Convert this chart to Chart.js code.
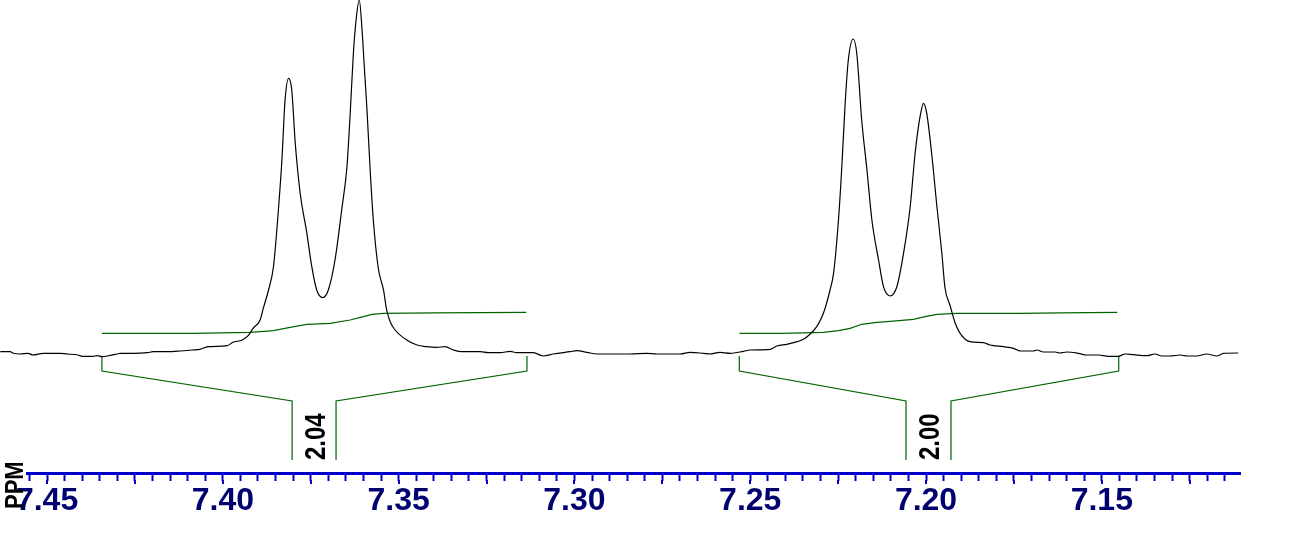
<!DOCTYPE html>
<html>
<head>
<meta charset="utf-8">
<script src="https://cdn.jsdelivr.net/npm/chart.js@4.4.1/dist/chart.umd.min.js"></script>
<style>
    html, body { margin: 0; padding: 0; background: #fff; }
    #spec { display: block; }
</style>
</head>
<body>
<canvas id="spec" width="1292" height="534"></canvas>
<script>
// spectrum: chemical shift (ppm) / intensity
var shiftPpm = [
    7.4633, 7.4605, 7.4596, 7.4577, 7.4554, 7.4540, 7.4511, 7.4463, 7.4443, 7.4412,
    7.4400, 7.4369, 7.4358, 7.4343, 7.4329, 7.4301, 7.4292, 7.4255, 7.4215, 7.4198,
    7.4158, 7.4121, 7.4087, 7.4065, 7.4042, 7.3988, 7.3971, 7.3945, 7.3928, 7.3914,
    7.3894, 7.3885, 7.3870, 7.3856, 7.3842, 7.3832, 7.3823, 7.3813, 7.3804, 7.3794,
    7.3780, 7.3761, 7.3747, 7.3733, 7.3716, 7.3700, 7.3681, 7.3662, 7.3647, 7.3638,
    7.3629, 7.3621, 7.3612, 7.3604, 7.3598, 7.3590, 7.3581, 7.3572, 7.3558, 7.3543,
    7.3534, 7.3524, 7.3510, 7.3477, 7.3448, 7.3420, 7.3391, 7.3368, 7.3344, 7.3320,
    7.3268, 7.3245, 7.3211, 7.3183, 7.3164, 7.3117, 7.3088, 7.3060, 7.3012, 7.2993,
    7.2965, 7.2936, 7.2889, 7.2842, 7.2794, 7.2766, 7.2699, 7.2671, 7.2633, 7.2614,
    7.2586, 7.2557, 7.2519, 7.2500, 7.2443, 7.2424, 7.2396, 7.2377, 7.2349, 7.2330,
    7.2311, 7.2296, 7.2287, 7.2273, 7.2263, 7.2249, 7.2240, 7.2230, 7.2221, 7.2207,
    7.2197, 7.2183, 7.2168, 7.2154, 7.2135, 7.2121, 7.2102, 7.2083, 7.2064, 7.2045,
    7.2031, 7.2017, 7.2007, 7.1998, 7.1984, 7.1969, 7.1955, 7.1946, 7.1932, 7.1917,
    7.1903, 7.1875, 7.1837, 7.1818, 7.1780, 7.1751, 7.1732, 7.1695, 7.1685, 7.1666,
    7.1633, 7.1619, 7.1600, 7.1567, 7.1543, 7.1510, 7.1481, 7.1453, 7.1434, 7.1410,
    7.1372, 7.1349, 7.1329, 7.1306, 7.1277, 7.1258, 7.1230, 7.1202, 7.1173, 7.1154,
    7.1112
];
var intensity = [
    0.3, 0.3, -1.3, -2, -1.3, -3, -1.3, -1.3, -2, -3,
    -4.3, -4.3, -3.7, -4.7, -4, -2, -1.3, -1.3, -0.7, 0.3,
    0.3, 1, 2, 2.7, 5.3, 6.3, 9.7, 12, 16.3, 23.7,
    32, 43.7, 62, 85.3, 142, 192, 252, 273.7, 262, 208.7,
    158.7, 118.7, 85.3, 62, 54.3, 62, 92, 142, 185.3, 237,
    297, 332, 352, 322, 287, 242, 182, 132, 84, 62,
    42, 30.3, 22, 12, 7, 5.3, 4.7, 5.3, 2, 0.3,
    0.3, -0.7, -0.7, 0.7, -0.7, -0.7, -4, -2, 0.3, 1.3,
    -0.3, -2, -2, -2, -1.3, -2, -2, -0.3, -1.3, -2,
    -0.3, -1.3, 0.7, 2, 2.7, 6, 7.7, 9.3, 12.7, 17.7,
    25.3, 35.3, 43.7, 62, 78.7, 132, 182, 248.7, 292, 313,
    298.7, 232, 182, 132, 92, 65.3, 56, 65.3, 98.7, 145.3,
    198.7, 235.3, 248.7, 238.7, 198.7, 145.3, 98.7, 64, 47, 28.7,
    18.7, 10.3, 9.3, 7, 5.3, 3.7, 1, 1, 2, 0,
    0, -1, 0, -1.3, -3, -3, -4.3, -4.3, -2, -2.7,
    -3.7, -2, -4, -4, -3, -4, -4, -2, -4, -1.3,
    -1
];

// integral curves
var integral1Ppm = [7.4344, 7.4088, 7.3922, 7.3856, 7.3809, 7.3761, 7.3695, 7.3638, 7.3600, 7.3576, 7.3543, 7.3401, 7.3137];
var integral1Val = [18.7, 18.7, 19.7, 21.3, 24.7, 27.7, 28.7, 32, 35.3, 37.7, 38.7, 39.2, 39.7];
var integral2Ppm = [7.2531, 7.2415, 7.2292, 7.2249, 7.2216, 7.2183, 7.2140, 7.2102, 7.2036, 7.2003, 7.1969, 7.1912, 7.1732, 7.1619, 7.1456];
var integral2Val = [18.7, 18.7, 19.7, 21.3, 23.7, 27.7, 29.7, 30.7, 32.7, 35.3, 37.7, 38.7, 38.7, 39.2, 39.7];

// integral regions and values
var integralLabels = ['2.04', '2.00'];
var integralFrom = [7.4344, 7.2531];
var integralTo = [7.3135, 7.1452];
var integralStem = [[7.3803, 7.3678], [7.2057, 7.1929]];

// axis
var tickLabels = ['7.45', '7.40', '7.35', '7.30', '7.25', '7.20', '7.15'];
var ppmMax = 7.4557, ppmMin = 7.1107;
var minorStep = 0.005, minorFirst = 7.455, minorLast = 7.115;

var AXIS_BLUE = '#0000c8';
var GREEN = '#006400';
// bracket levels on the intensity scale
var BR_TOP = -4, BR_SHOULDER = -19, BR_KNEE = -49, BR_BOTTOM = -108;

function pts(xs, ys) {
    return xs.map(function (v, i) { return {x: v, y: ys[i]}; });
}

function lineSet(data, color, extra) {
    var ds = {
        data: data, borderColor: color, borderWidth: 1.2, pointRadius: 0,
        fill: false, tension: 0, clip: false
    };
    for (var k in extra) ds[k] = extra[k];
    return ds;
}

var datasets = [];
datasets.push(lineSet(pts(shiftPpm, intensity), '#000', {cubicInterpolationMode: 'monotone'}));
datasets.push(lineSet(pts(integral1Ppm, integral1Val), GREEN));
datasets.push(lineSet(pts(integral2Ppm, integral2Val), GREEN));
for (var i = 0; i < integralLabels.length; i++) {
    datasets.push(lineSet([
        {x: integralFrom[i], y: BR_TOP}, {x: integralFrom[i], y: BR_SHOULDER},
        {x: integralStem[i][0], y: BR_KNEE}, {x: integralStem[i][0], y: BR_BOTTOM}
    ], GREEN));
    datasets.push(lineSet([
        {x: integralTo[i], y: BR_TOP}, {x: integralTo[i], y: BR_SHOULDER},
        {x: integralStem[i][1], y: BR_KNEE}, {x: integralStem[i][1], y: BR_BOTTOM}
    ], GREEN));
}

function isMultiple(v, step) {
    var q = v / step;
    return Math.abs(q - Math.round(q)) < 1e-6;
}

// long ticks, integral values, PPM title
var nmrText = {
    id: 'nmrText',
    afterDraw: function (chart) {
        var ctx = chart.ctx, xs = chart.scales.x, ys = chart.scales.y, area = chart.chartArea;
        ctx.save();
        ctx.strokeStyle = AXIS_BLUE;
        ctx.lineWidth = 2;
        xs.ticks.forEach(function (t) {
            if (!isMultiple(t.value, 0.025)) return;
            var px = Math.round(xs.getPixelForValue(t.value));
            ctx.beginPath();
            ctx.moveTo(px, area.bottom + 7);
            ctx.lineTo(px, area.bottom + 11);
            ctx.stroke();
        });
        ctx.restore();

        for (var i = 0; i < integralLabels.length; i++) {
            var mid = (xs.getPixelForValue(integralStem[i][0]) + xs.getPixelForValue(integralStem[i][1])) / 2;
            ctx.save();
            ctx.translate(mid + 11, ys.getPixelForValue(BR_BOTTOM));
            ctx.rotate(-Math.PI / 2);
            ctx.scale(1, 1.25);
            ctx.fillStyle = '#000';
            ctx.font = 'bold 24px "Liberation Sans", Arial, sans-serif';
            ctx.textBaseline = 'alphabetic';
            ctx.fillText(integralLabels[i], 0, 0);
            ctx.restore();
        }

        ctx.save();
        ctx.translate(area.left - 4, area.bottom + 36);
        ctx.rotate(-Math.PI / 2);
        ctx.scale(1, 1.2);
        ctx.fillStyle = '#000';
        ctx.font = 'bold 22px "Liberation Sans", Arial, sans-serif';
        ctx.fillText('PPM', 0, 0);
        ctx.restore();
    }
};

new Chart(document.getElementById('spec').getContext('2d'), {
    type: 'line',
    data: {datasets: datasets},
    options: {
        responsive: false,
        animation: false,
        events: [],
        layout: {padding: {left: 27, right: 52, top: 0, bottom: 0}, autoPadding: false},
        plugins: {legend: {display: false}, tooltip: {enabled: false}},
        scales: {
            x: {
                type: 'linear',
                reverse: true,
                min: ppmMin,
                max: ppmMax,
                bounds: 'data',
                afterBuildTicks: function (scale) {
                    var n = Math.round((minorFirst - minorLast) / minorStep);
                    var ticks = [];
                    for (var k = 0; k <= n; k++) {
                        ticks.push({value: Math.round((minorFirst - k * minorStep) * 1000) / 1000});
                    }
                    scale.ticks = ticks;
                },
                afterFit: function (scale) { scale.height = 61; },
                border: {display: true, color: AXIS_BLUE, width: 3},
                grid: {
                    display: true, drawOnChartArea: false, drawTicks: true,
                    tickLength: 8, tickWidth: 2, tickColor: AXIS_BLUE
                },
                ticks: {
                    autoSkip: false,
                    maxRotation: 0,
                    minRotation: 0,
                    padding: 4,
                    color: '#000070',
                    font: {family: '"Liberation Sans", Arial, sans-serif', size: 32, weight: 'bold', lineHeight: 1},
                    callback: function (value) {
                        for (var j = 0; j < tickLabels.length; j++) {
                            if (Math.abs(parseFloat(tickLabels[j]) - value) < 1e-6) return tickLabels[j];
                        }
                        return '';
                    }
                }
            },
            y: {
                type: 'linear',
                display: false,
                min: -121,
                max: 352
            }
        }
    },
    plugins: [nmrText]
});
</script>
</body>
</html>
